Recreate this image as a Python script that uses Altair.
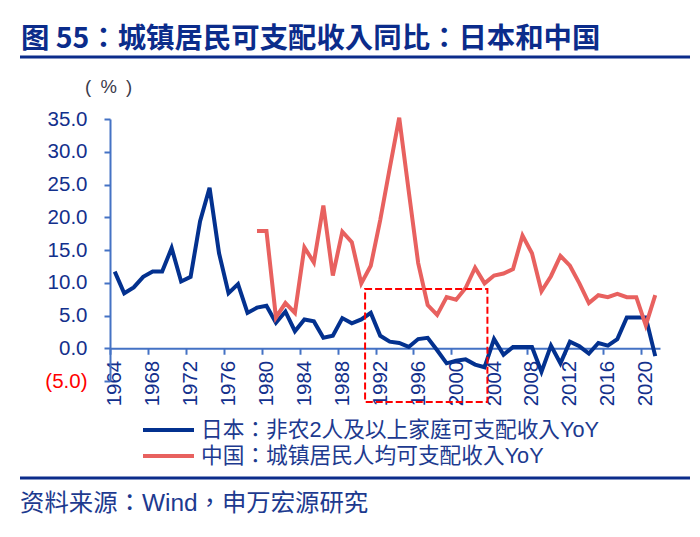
import altair as alt
import pandas as pd

# ---------------- data ----------------
years_japan = list(range(1964, 2022))
japan = [11.7, 8.4, 9.3, 10.9, 11.7, 11.7, 15.3, 10.2, 10.9, 19.4,
         24.5, 14.5, 8.4, 9.8, 5.4, 6.2, 6.5, 3.9, 5.6, 2.6,
         4.4, 4.1, 1.6, 1.9, 4.6, 3.8, 4.4, 5.4, 1.9, 1.0,
         0.8, 0.2, 1.4, 1.6, -0.3, -2.3, -1.9, -1.7, -2.5, -2.9,
         1.4, -1.0, 0.2, 0.2, 0.2, -3.6, 0.4, -2.3, 1.0, 0.3,
         -0.8, 0.8, 0.4, 1.4, 4.7, 4.7, 4.7, -1.2]

years_china = list(range(1979, 2022))
china = [17.9, 17.9, 4.7, 6.9, 5.4, 15.4, 13.1, 21.8, 11.1, 17.8,
         16.2, 9.9, 12.6, 19.6, 27.5, 35.2, 24.0, 13.0, 6.6, 5.1,
         7.8, 7.4, 9.2, 12.3, 9.9, 11.1, 11.4, 12.1, 17.2, 14.5,
         8.7, 11.0, 14.1, 12.6, 9.9, 6.9, 8.1, 7.8, 8.3, 7.8,
         7.8, 3.5, 8.1]

series_names = ["日本：非农2人及以上家庭可支配收入YoY", "中国：城镇居民人均可支配收入YoY"]
series_colors = ["#03318F", "#E8615F"]

x_ticks = list(range(1964, 2021, 4))
y_ticks = [-5, 0, 5, 10, 15, 20, 25, 30, 35]

box_x = [1990.4, 2003.3]
box_y = [9.05, -8.2]

title_text = "图 55：城镇居民可支配收入同比：日本和中国"
unit_text = "(\u2002%\u2002)"
source_text = "资料来源：Wind，申万宏源研究"

# ---------------- styling ----------------
W, H = 550, 262
FONT = "Liberation Sans, Arial, Noto Sans CJK TC, sans-serif"
CJK = "Noto Sans CJK TC, Liberation Sans, sans-serif"
NAVY = "#0B2C8B"
LBL = "#13308C"
AXC = "#4472C4"
half_cat = W / 58 / 2

df = pd.concat([
    pd.DataFrame({"year": years_japan, "value": japan, "series": series_names[0]}),
    pd.DataFrame({"year": years_china, "value": china, "series": series_names[1]}),
])

x_scale = alt.Scale(domain=[1963.5, 2021.5], nice=False, zero=False)
y_scale = alt.Scale(domain=[-5, 35], nice=False, zero=False)

x_axis = alt.Axis(values=x_ticks, title=None, format="d", labelAngle=270,
                  labelAlign="right", labelBaseline="middle",
                  tickOffset=-half_cat, labelOffset=half_cat,
                  offset=-H * 5 / 40, grid=False,
                  domainColor=AXC, domainWidth=2, tickColor=AXC, tickWidth=2,
                  tickSize=6, labelColor=LBL, labelFont=FONT, labelFontSize=20.5,
                  labelPadding=6, labelFlush=False, labelOverlap=False)

y_axis = alt.Axis(values=y_ticks, title=None, grid=False,
                  labelExpr="datum.value < 0 ? '(' + format(-datum.value, '.1f') + ')' : format(datum.value, '.1f')",
                  labelColor={"condition": {"test": "datum.value < 0", "value": "#FF0000"}, "value": LBL},
                  domainColor=AXC, domainWidth=2, tickColor=AXC, tickWidth=2,
                  tickSize=6, labelFont=FONT, labelFontSize=20.5, labelPadding=17,
                  labelFlush=False, labelOverlap=False)

lines = alt.Chart(df).mark_line(strokeWidth=4).encode(
    x=alt.X("year:Q", scale=x_scale, axis=x_axis),
    y=alt.Y("value:Q", scale=y_scale, axis=y_axis),
    color=alt.Color("series:N", scale=alt.Scale(domain=series_names, range=series_colors), legend=None),
)

box = alt.Chart(pd.DataFrame({"x1": [box_x[0]], "x2": [box_x[1]], "y1": [box_y[0]], "y2": [box_y[1]]})).mark_rect(
    filled=False, stroke="#FF0000", strokeWidth=2, strokeDash=[7, 3]
).encode(
    x=alt.X("x1:Q", scale=x_scale, axis=x_axis), x2="x2:Q",
    y=alt.Y("y1:Q", scale=y_scale, axis=y_axis), y2="y2:Q",
)

def text_layer(txt, x, y, size, color, font=FONT, weight="normal", align="left"):
    return alt.Chart(pd.DataFrame({"t": [txt]})).mark_text(
        align=align, baseline="middle", fontSize=size, font=font, fontWeight=weight, color=color
    ).encode(text="t:N", x=alt.value(x), y=alt.value(y))

def hrule(x1, x2, y, color, width):
    return alt.Chart(pd.DataFrame({"a": [0]})).mark_rule(color=color, strokeWidth=width).encode(
        x=alt.value(x1), x2=alt.value(x2), y=alt.value(y))

layers = [lines, box,
          text_layer(title_text, -89, -80, 28.4, NAVY, font=CJK, weight="bold"),
          hrule(-90, 580, -62, NAVY, 3),
          text_layer(unit_text, -25, -32, 18.5, "#3A3A4A"),
          hrule(-90, 580, 359, NAVY, 3),
          text_layer(source_text, -90, 385, 24.4, "#1D3A8F")]

for i, (name, col) in enumerate(zip(series_names, series_colors)):
    yy = 311 + 26 * i
    layers.append(hrule(33, 84, yy, col, 4))
    layers.append(text_layer(name, 91, yy, 21.7, "#1D3A8F"))

chart = alt.layer(*layers).properties(
    width=W, height=H,
    autosize=alt.AutoSizeParams(type="none"),
    padding={"left": 102, "top": 111, "right": 32, "bottom": 140},
    background="white",
).configure_view(stroke=None)

chart.save("out.html", embed_options={"renderer": "svg", "actions": False})
